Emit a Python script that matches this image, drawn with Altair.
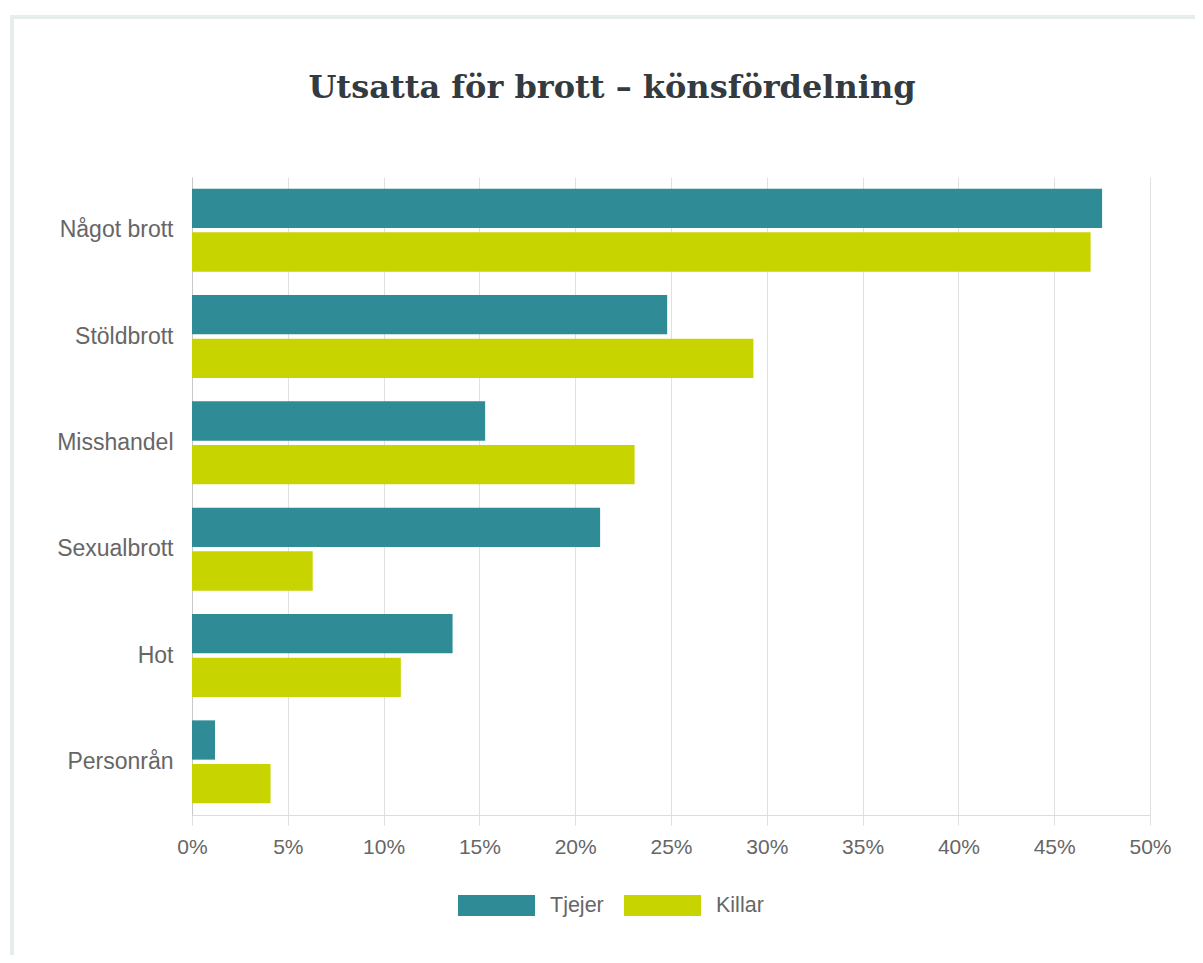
import altair as alt
import pandas as pd

categories = ["Något brott", "Stöldbrott", "Misshandel", "Sexualbrott", "Hot", "Personrån"]
tjejer = [47.5, 24.8, 15.3, 21.3, 13.6, 1.2]
killar = [46.9, 29.3, 23.1, 6.3, 10.9, 4.1]
series = ["Tjejer", "Killar"]
colors = ["#2F8B95", "#C8D400"]
tick_values = [0, 0.05, 0.10, 0.15, 0.20, 0.25, 0.30, 0.35, 0.40, 0.45, 0.50]

rows = []
for c, t, k in zip(categories, tjejer, killar):
    rows.append({"kategori": c, "kön": series[0], "andel": t / 100})
    rows.append({"kategori": c, "kön": series[1], "andel": k / 100})
df = pd.DataFrame(rows)

label_font = "Liberation Sans"

bars = alt.Chart(df).mark_bar().encode(
    y=alt.Y("kategori:N", sort=categories, title=None,
            scale=alt.Scale(paddingInner=0.22, paddingOuter=0.11),
            axis=alt.Axis(labelFont=label_font, labelFontSize=23, labelColor="#666666",
                          labelPadding=19, ticks=False, domain=True, domainColor="#C8C8C8",
                          grid=False)),
    yOffset=alt.YOffset("kön:N", sort=series, scale=alt.Scale(paddingInner=0.1)),
    x=alt.X("andel:Q", title=None,
            scale=alt.Scale(domain=[0, 0.5], nice=False),
            axis=alt.Axis(values=tick_values, format=".0%", labelFont=label_font,
                          labelFontSize=21, labelColor="#666666", tickSize=10,
                          tickColor="#E0E0E0", labelPadding=11, labelFlush=False,
                          grid=True, gridColor="#E0E0E0", domainColor="#DDDDDD")),
    color=alt.Color("kön:N", sort=series,
                    scale=alt.Scale(domain=series, range=colors),
                    legend=alt.Legend(title=None, orient="none", legendX=266, legendY=690,
                                      direction="horizontal",
                                      symbolType="M-1,-0.27L1,-0.27L1,0.27L-1,0.27Z",
                                      symbolSize=5929, symbolStrokeWidth=0,
                                      symbolOpacity=1,
                                      labelFont=label_font, labelFontSize=21.5,
                                      labelColor="#666666", labelOffset=15,
                                      columnPadding=20, padding=0)),
)

frame = alt.Chart(alt.Data(values=[{}])).mark_rect(
    fill=None, stroke="#E7EDED", strokeWidth=4
).encode(
    x=alt.value(-180), x2=alt.value(1100), y=alt.value(-160), y2=alt.value(900)
)

chart = alt.layer(frame, bars).properties(
    width=958, height=638,
    title=alt.TitleParams("Utsatta för brott – könsfördelning", font="DejaVu Serif",
                          fontSize=32, fontWeight="bold", color="#333A40",
                          anchor="middle", dx=-59, offset=-90),
    autosize=alt.AutoSizeParams(type="none"),
    padding={"left": 184, "top": 169, "right": 45, "bottom": 140},
    background="white",
).configure_view(stroke=None)

chart.save("out.html", embed_options={"renderer": "svg", "actions": False})
